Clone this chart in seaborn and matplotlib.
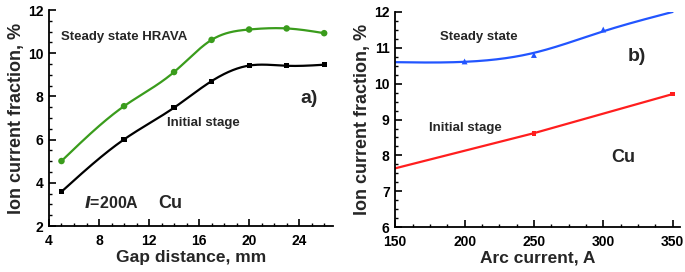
import numpy as np
import pandas as pd
import matplotlib
matplotlib.use("Agg")
import matplotlib.pyplot as plt
from matplotlib.ticker import MultipleLocator
import seaborn as sns

# ---- data ----
gap_mm = [5, 10, 14, 17, 20, 23, 26]
steady_hrava = [5.01, 7.55, 9.13, 10.62, 11.1, 11.15, 10.93]
initial_gap = [3.59, 6.01, 7.48, 8.71, 9.43, 9.42, 9.47]

arc_curve_x = [150, 200, 250, 300, 350]
steady_arc_curve = [10.6, 10.61, 10.86, 11.46, 12.0]
arc_marker_x = [200, 250, 300]
steady_arc_marker = [10.62, 10.8, 11.51]
initial_arc_x = [150, 250, 350]
initial_arc = [7.64, 8.62, 9.71]
initial_arc_marker_x = [250, 350]
initial_arc_marker = [8.62, 9.71]


def spline(x, y, n=300):
    """Natural cubic spline through the given points (for drawing a smooth line)."""
    x = np.asarray(x, float); y = np.asarray(y, float)
    N = len(x); h = np.diff(x)
    A = np.zeros((N, N)); b = np.zeros(N)
    A[0, 0] = 1; A[-1, -1] = 1
    for i in range(1, N - 1):
        A[i, i - 1] = h[i - 1]; A[i, i] = 2 * (h[i - 1] + h[i]); A[i, i + 1] = h[i]
        b[i] = 6 * ((y[i + 1] - y[i]) / h[i] - (y[i] - y[i - 1]) / h[i - 1])
    M = np.linalg.solve(A, b)
    xs = np.linspace(x[0], x[-1], n)
    idx = np.clip(np.searchsorted(x, xs) - 1, 0, N - 2)
    hi = h[idx]; a = x[idx + 1] - xs; c = xs - x[idx]
    ys = (M[idx] * a**3 + M[idx + 1] * c**3) / (6 * hi) \
        + (y[idx] / hi - M[idx] * hi / 6) * a + (y[idx + 1] / hi - M[idx + 1] * hi / 6) * c
    return xs, ys


sns.set_theme(style="ticks")
plt.rcParams['font.family'] = ['Liberation Sans', 'DejaVu Sans']
plt.rcParams['font.weight'] = 'bold'

fig = plt.figure(figsize=(6.85, 2.72), dpi=100)
ax1 = fig.add_axes([0.0715, 0.169, 0.4145, 0.794])
ax2 = fig.add_axes([0.577, 0.165, 0.416, 0.791])

GREEN = "#3a9c1c"; BLUE = "#2255ff"; RED = "#ff1e1e"

# panel a
xs, ys = spline(gap_mm, steady_hrava)
sns.lineplot(x=xs, y=ys, ax=ax1, color=GREEN, lw=1.6)
sns.scatterplot(x=gap_mm, y=steady_hrava, ax=ax1, color=GREEN, marker="o", s=22, edgecolor="none", zorder=3)
xs, ys = spline(gap_mm, initial_gap)
sns.lineplot(x=xs, y=ys, ax=ax1, color="black", lw=1.6)
sns.scatterplot(x=gap_mm, y=initial_gap, ax=ax1, color="black", marker="s", s=14, edgecolor="none", zorder=3)

ax1.set_xlim(4, 26.7)
ax1.set_ylim(2, 12)
ax1.xaxis.set_major_locator(MultipleLocator(4))
ax1.xaxis.set_minor_locator(MultipleLocator(1))
ax1.yaxis.set_major_locator(MultipleLocator(2))
ax1.yaxis.set_minor_locator(MultipleLocator(0.5))
ax1.set_xlabel("Gap distance, mm", fontsize=12.5, fontweight="bold", labelpad=1)
ax1.set_ylabel("Ion current fraction, %", fontsize=13, fontweight="bold", labelpad=2)
ax1.text(5.0, 10.77, "Steady state HRAVA", fontsize=9.5, fontweight="bold", va="center")
ax1.text(13.4, 6.78, "Initial stage", fontsize=9.5, fontweight="bold", va="center")
ax1.text(24.1, 7.9, "a)", fontsize=14, fontweight="bold", va="center")
ax1.text(6.8, 3.05, r"$\bfit{I}$=200A", fontsize=11.5, fontweight="bold", va="center")
ax1.text(12.75, 3.05, "Cu", fontsize=13, fontweight="bold", va="center")

# panel b
xs, ys = spline(arc_curve_x, steady_arc_curve)
sns.lineplot(x=xs, y=ys, ax=ax2, color=BLUE, lw=1.6)
sns.scatterplot(x=arc_marker_x, y=steady_arc_marker, ax=ax2, color=BLUE, marker="^", s=18, edgecolor="none", zorder=3)
sns.lineplot(x=initial_arc_x, y=initial_arc, ax=ax2, color=RED, lw=1.6)
sns.scatterplot(x=initial_arc_marker_x, y=initial_arc_marker, ax=ax2, color=RED, marker="s", s=12, edgecolor="none", zorder=3)

ax2.set_xlim(150, 355.5)
ax2.set_ylim(6, 12)
ax2.xaxis.set_major_locator(MultipleLocator(50))
ax2.xaxis.set_minor_locator(MultipleLocator(12.5))
ax2.yaxis.set_major_locator(MultipleLocator(1))
ax2.yaxis.set_minor_locator(MultipleLocator(0.25))
ax2.set_xlabel("Arc current, A", fontsize=12.5, fontweight="bold", labelpad=0.5)
ax2.set_ylabel("Ion current fraction, %", fontsize=13, fontweight="bold", labelpad=2)
ax2.text(182, 11.3, "Steady state", fontsize=9.5, fontweight="bold", va="center")
ax2.text(174, 8.77, "Initial stage", fontsize=9.5, fontweight="bold", va="center")
ax2.text(317.5, 10.75, "b)", fontsize=14, fontweight="bold", va="center")
ax2.text(306, 7.95, "Cu", fontsize=13, fontweight="bold", va="center")

for ax in (ax1, ax2):
    sns.despine(ax=ax)
    for s in ("left", "bottom"):
        ax.spines[s].set_linewidth(1.3)
        ax.spines[s].set_color("black")
    ax.tick_params(which="major", direction="in", length=5, width=1.2, labelsize=10, colors="black")
    ax.tick_params(which="minor", direction="in", length=2.5, width=1.0, colors="black")
    ax.tick_params(axis="x", which="major", pad=6)
    ax.tick_params(axis="y", which="major", pad=4)
    for lab in ax.get_xticklabels() + ax.get_yticklabels():
        lab.set_fontweight("bold")
    ax.set_facecolor("white")

fig.savefig("out.png", dpi=100, facecolor="white")
